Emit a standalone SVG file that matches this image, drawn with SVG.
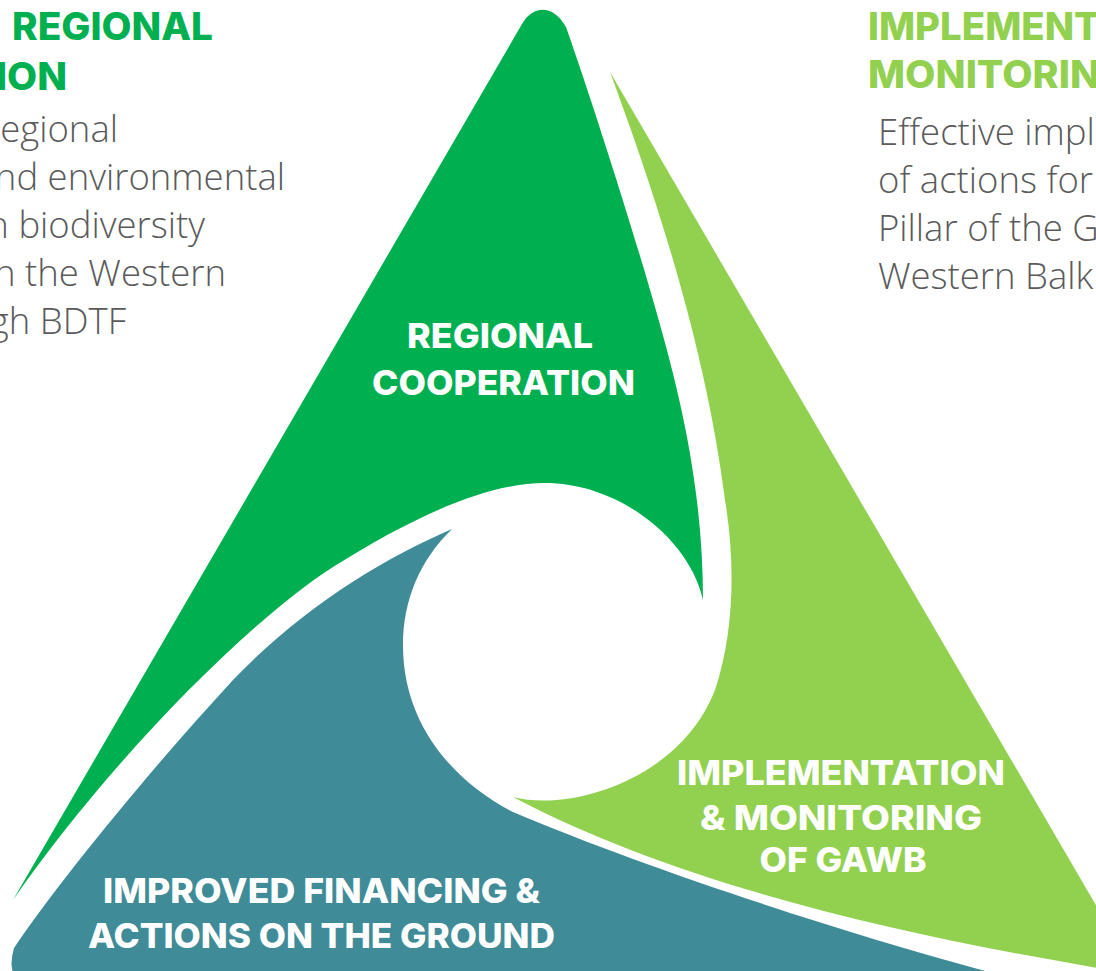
<svg xmlns="http://www.w3.org/2000/svg" width="1096" height="971" viewBox="0 0 1096 971">
<style>
.lbl{font-family:Inter,"Liberation Sans",sans-serif;font-weight:800;font-size:34px;fill:#ffffff;text-anchor:middle}
.ttl{font-family:Inter,"Liberation Sans",sans-serif;font-weight:800;font-size:38px}
.body{font-family:"Open Sans","Liberation Sans",sans-serif;font-weight:300;font-size:36.5px;fill:#5a5a5a}
</style>
<rect width="1096" height="971" fill="#ffffff"/>
<g id="side-text-left">
<text class="ttl" fill="#00B050" x="12" y="40" textLength="201" lengthAdjust="spacingAndGlyphs">REGIONAL</text>
<text class="ttl" fill="#00B050" x="-4" y="90" textLength="71" lengthAdjust="spacingAndGlyphs">ION</text>
<text class="body" text-anchor="end" x="118" y="142">egional</text>
<text class="body" text-anchor="end" x="285" y="190">nd environmental</text>
<text class="body" text-anchor="end" x="205" y="238">n biodiversity</text>
<text class="body" text-anchor="end" x="226" y="286">n the Western</text>
<text class="body" text-anchor="end" x="126" y="334">gh BDTF</text>
</g>
<g id="side-text-right">
<text class="ttl" fill="#92D050" x="868" y="40" textLength="232" lengthAdjust="spacingAndGlyphs">IMPLEMENT</text>
<text class="ttl" fill="#92D050" x="868" y="88" textLength="232" lengthAdjust="spacingAndGlyphs">MONITORIN</text>
<text class="body" x="878" y="145">Effective impl</text>
<text class="body" x="878" y="193">of actions for</text>
<text class="body" x="878" y="241">Pillar of the G</text>
<text class="body" x="878" y="289">Western Balk</text>
</g>
<g id="node-regional-cooperation">
<path fill="#00AF50" d="M13,900 L522,24 C533,5 553,4 566,27 C590,95 630,220 653,300 C676,380 703,480 703,600 C690,540 620,483 545,483 C480,483 400,525 333,567 C250,620 110,760 13,900 Z"/>
<text class="lbl" x="500" y="348" textLength="186" lengthAdjust="spacingAndGlyphs">REGIONAL</text>
<text class="lbl" x="503.5" y="395" textLength="263" lengthAdjust="spacingAndGlyphs">COOPERATION</text>
</g>
<g id="node-implementation-monitoring">
<path fill="#92D050" d="M610,72 L1125,955 Q1132,972 1110,970 C900,935 680,885 513,797 C570,812 680,780 715,690 C735,630 735,560 725,500 C705,340 650,180 610,72 Z"/>
<text class="lbl" x="841" y="785" textLength="328" lengthAdjust="spacingAndGlyphs">IMPLEMENTATION</text>
<text class="lbl" x="841" y="830" textLength="282" lengthAdjust="spacingAndGlyphs">&amp; MONITORING</text>
<text class="lbl" x="843" y="872" textLength="167" lengthAdjust="spacingAndGlyphs">OF GAWB</text>
</g>
<g id="node-improved-financing">
<path fill="#3F8C98" d="M452,529 C420,560 403,600 403,645 C403,730 460,785 513,812 C650,870 850,935 1000,975 L1000,985 L24,985 Q6,975 14,948 C60,880 150,770 233,680 C300,610 380,560 452,529 Z"/>
<text class="lbl" x="321.5" y="903" textLength="437" lengthAdjust="spacingAndGlyphs">IMPROVED FINANCING &amp;</text>
<text class="lbl" x="321.5" y="948" textLength="467" lengthAdjust="spacingAndGlyphs">ACTIONS ON THE GROUND</text>
</g>
<g id="connectors"/>
</svg>
